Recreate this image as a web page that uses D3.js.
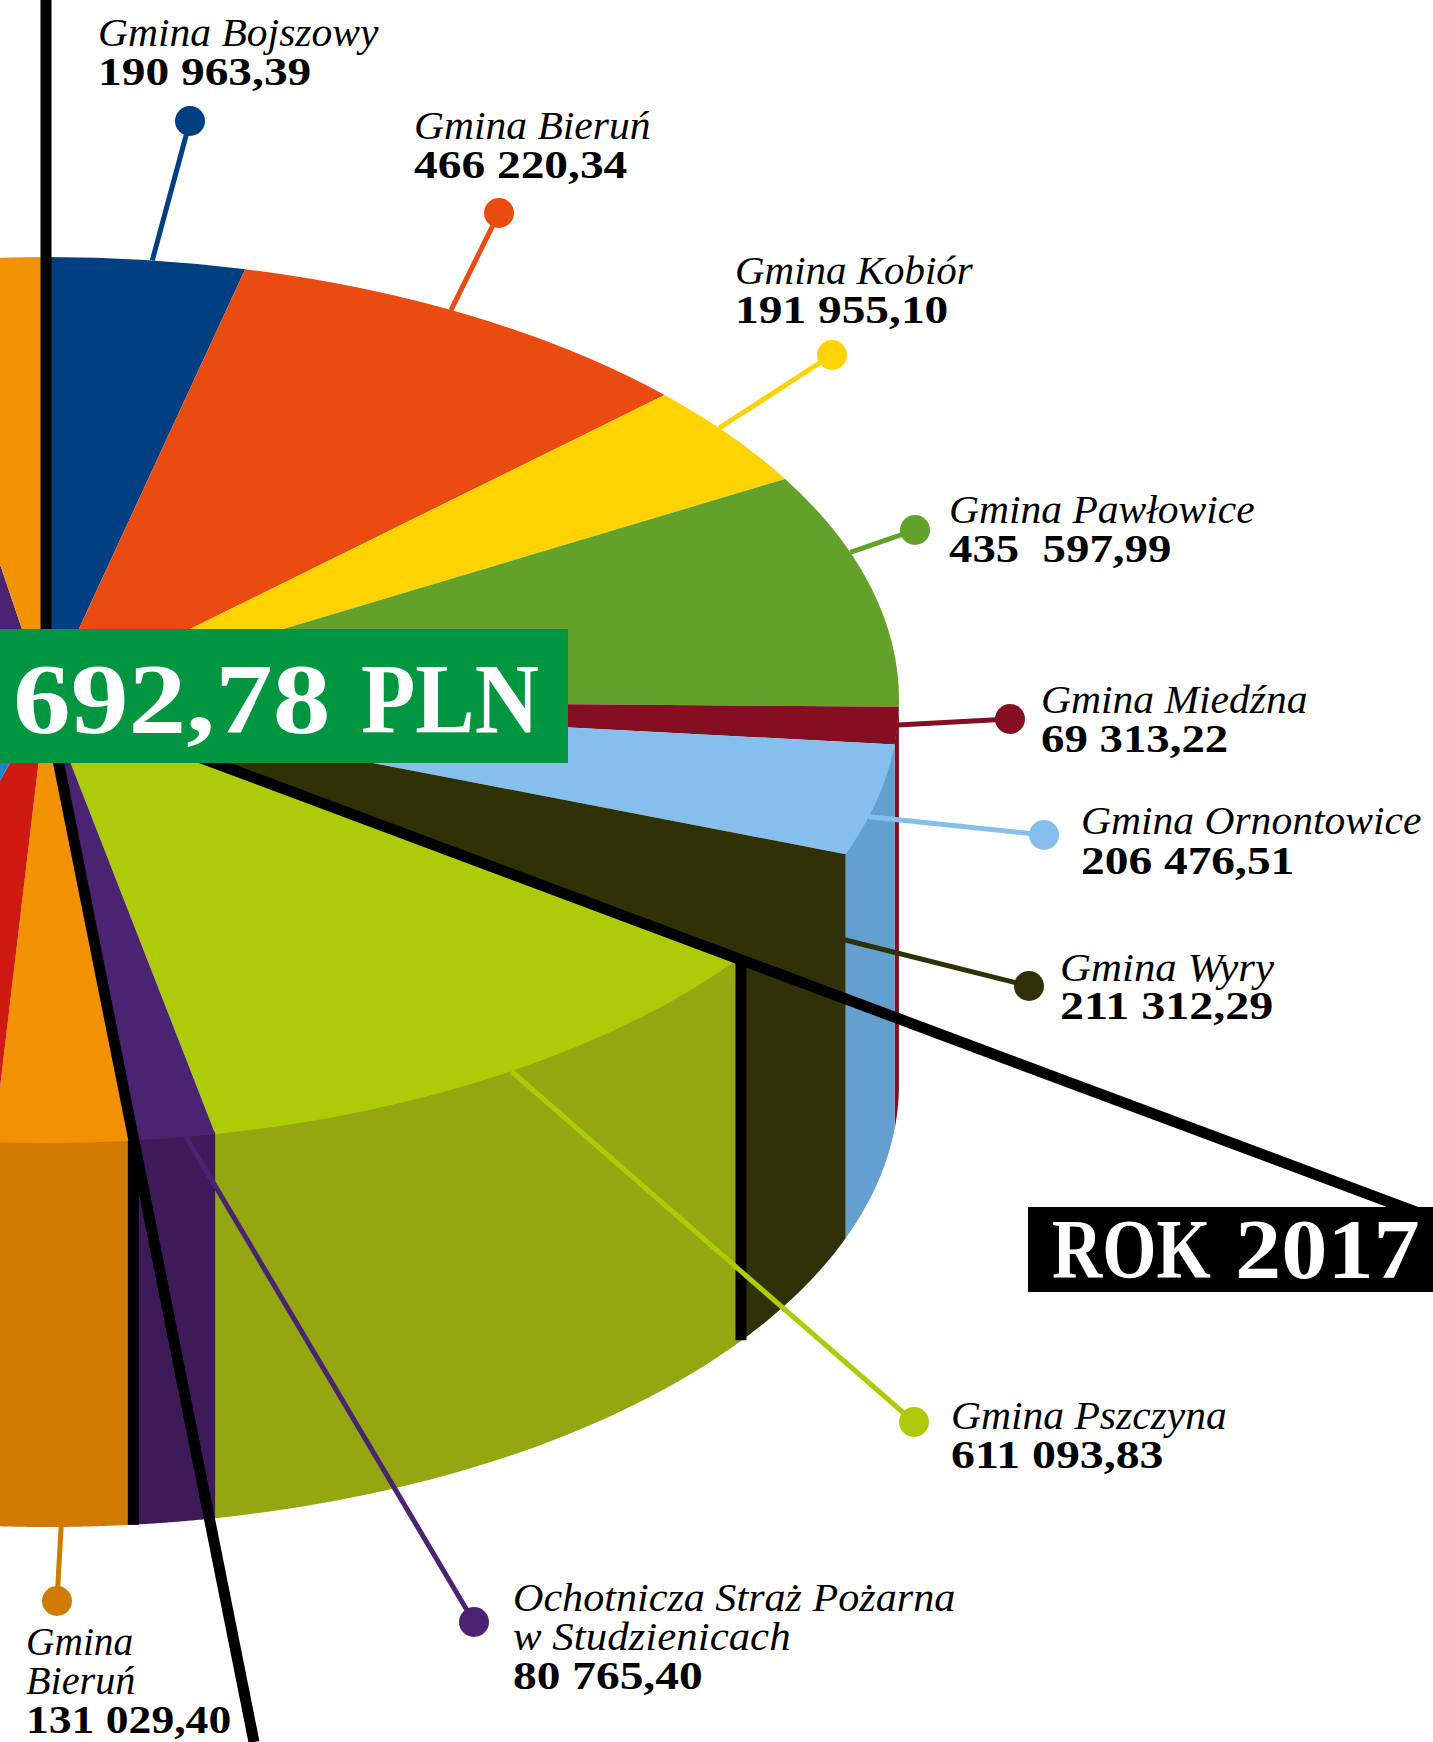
<!DOCTYPE html>
<html>
<head>
<meta charset="utf-8">
<script src="https://cdn.jsdelivr.net/npm/d3@7"></script>
<style>
	html,body{margin:0;padding:0;background:#fff;overflow:hidden;}
	svg{display:block;}
	text{font-family:"Liberation Serif",serif;fill:#000;}
</style>
</head>
<body>
<svg width="1433" height="1742"></svg>
<script>
// slices clockwise from the top; the last four lie mostly outside the crop, values estimated
var categories = ['Gmina Bojszowy','Gmina Bieruń','Gmina Kobiór','Gmina Pawłowice','Gmina Miedźna','Gmina Ornontowice','Gmina Wyry','Gmina Pszczyna','Ochotnicza Straż Pożarna w Studzienicach','Gmina Bieruń (2)','poza kadrem 1','poza kadrem 2','poza kadrem 3','poza kadrem 4'];
var values = [190963.39,466220.34,191955.10,435597.99,69313.22,206476.51,211312.29,611093.83,80765.40,131029.40,184000,1970000,200000,141000];
var valueLabels = ['190 963,39','466 220,34','191 955,10','435  597,99','69 313,22','206 476,51','211 312,29','611 093,83','80 765,40','131 029,40'];
var totalLabel = ['692,78','PLN'];
var yearLabel = ['ROK','2017'];

var topColors = ['#003f82','#ea4b10','#ffd200','#62a12a','#840e22','#85c0ec','#2f3206','#aecb07','#4a2372','#f39200','#cf1a12','#1d85c8','#4a2372','#f39200'];
var wallColors = ['#003f82','#ea4b10','#ffd200','#62a12a','#840e22','#64a0cf','#2f3206','#93a710','#3d1a58','#cf7a00','#a81510','#176aa0','#3d1a58','#cf7a00'];

// label layout: text lines, text x, baselines, dot, where the leader leaves the slice, text stretch
var labelLayout = [
	{i:0,lines:['Gmina Bojszowy'],x:98,y:[45,85],dot:[190,121],frac:.53,drop:0,color:'#003f82',sn:[1.065],sv:1.185},
	{i:1,lines:['Gmina Bieruń'],x:414,y:[138,178],dot:[499,213],frac:.45,drop:0,color:'#ea4b10',sn:[1.065],sv:1.185},
	{i:2,lines:['Gmina Kobiór'],x:735,y:[283,323],dot:[832,355],frac:.415,drop:0,color:'#ffd200',sn:[1.05],sv:1.185},
	{i:3,lines:['Gmina Pawłowice'],x:949,y:[522,562],dot:[915,530],frac:.34,drop:0,color:'#62a12a',sn:[1.065],sv:1.17},
	{i:4,lines:['Gmina Miedźna'],x:1041,y:[712,752],dot:[1010,719],frac:.48,drop:0,color:'#840e22',sn:[1.065],sv:1.17},
	{i:5,lines:['Gmina Ornontowice'],x:1081,y:[833,874],dot:[1044,835],frac:.65,drop:0,color:'#85c0ec',sn:[1.065],sv:1.185},
	{i:6,lines:['Gmina Wyry'],x:1060,y:[980,1019],dot:[1029,986],frac:.03,drop:82,color:'#2f3206',sn:[1.10],sv:1.2},
	{i:7,lines:['Gmina Pszczyna'],x:951,y:[1428,1468],dot:[914,1422],frac:.5,drop:0,color:'#aecb07',sn:[1.065],sv:1.195},
	{i:8,lines:['Ochotnicza Straż Pożarna','w Studzienicach'],x:513,y:[1610,1649,1689],dot:[474,1622],frac:.35,drop:0,color:'#4a2372',sn:[1.08,1.10],sv:1.185},
	{i:9,lines:['Gmina','Bieruń'],x:26,y:[1654,1693,1733],dot:[57,1601],frac:.51,drop:384,color:'#cf7a00',sn:[1.01,1.03],sv:1.14}
];

var cx = 46, cy = 700, rx = 853, ry = 443, depth = 384;
var svg = d3.select('svg');

var pie = d3.pie().sort(null).value(d => d);
var slices = pie(values);

var xscale = d3.scaleLinear().domain([-1,1]).range([cx-rx,cx+rx]);
var yscale = d3.scaleLinear().domain([-1,1]).range([cy-ry,cy+ry]);
var rimX = a => xscale(Math.sin(a));
var rimY = a => yscale(-Math.cos(a));

// side walls, only the front half of the rim is seen. start a little high so no seam shows under the top
var wall = d3.area().x(a => rimX(a)).y0(a => rimY(a)-3).y1(a => rimY(a)+depth);
var walls = svg.append('g');
slices.forEach((s,i) => {
	var a0 = Math.max(s.startAngle,Math.PI/2), a1 = Math.min(s.endAngle,Math.PI*1.5);
	if(a1 <= a0) return;
	var steps = d3.range(0,41).map(k => a0+(a1-a0)*k/40);
	walls.append('path').attr('d',wall(steps)).attr('fill',wallColors[i]);
});

// top face
var arc = d3.arc().innerRadius(0).outerRadius(rx);
svg.append('g')
	.attr('transform',`translate(${cx},${cy}) scale(1,${ry/rx})`)
	.selectAll('path').data(slices).enter().append('path')
	.attr('d',arc)
	.attr('fill',(d,i) => topColors[i]);

// black marks of the 2017 sector
var wyryEnd = slices[6].endAngle, ospEnd = slices[8].endAngle;
var marks = svg.append('g').attr('stroke','#000').attr('stroke-width',11).attr('fill','none');
marks.append('line').attr('x1',cx).attr('y1',0).attr('x2',cx).attr('y2',cy);
marks.append('line').attr('x1',rimX(wyryEnd)-1).attr('y1',rimY(wyryEnd)).attr('x2',rimX(wyryEnd)-1).attr('y2',rimY(wyryEnd)+depth);
marks.append('line').attr('x1',rimX(ospEnd)+2).attr('y1',rimY(ospEnd)).attr('x2',rimX(ospEnd)+2).attr('y2',rimY(ospEnd)+depth);
marks.append('line').attr('x1',cx).attr('y1',cy).attr('x2',1440).attr('y2',1221);
marks.append('line').attr('x1',cx).attr('y1',cy).attr('x2',254).attr('y2',1742);

// leaders and dots
var leaders = svg.append('g');
labelLayout.forEach(l => {
	var s = slices[l.i];
	var a = s.startAngle+(s.endAngle-s.startAngle)*l.frac;
	leaders.append('line')
		.attr('x1',rimX(a)).attr('y1',rimY(a)+l.drop)
		.attr('x2',l.dot[0]).attr('y2',l.dot[1])
		.attr('stroke',l.color).attr('stroke-width',5);
	leaders.append('circle').attr('cx',l.dot[0]).attr('cy',l.dot[1]).attr('r',15).attr('fill',l.color);
});

// stretch the text a bit, the original face is wider than Liberation Serif
function addText(g,str,x,y,size,weight,style,stretch){
	var t = g.append('text').attr('x',x).attr('y',y).text(str)
		.attr('font-size',size).attr('font-weight',weight).attr('font-style',style)
		.style('white-space','pre');
	t.attr('textLength',t.node().getComputedTextLength()*stretch).attr('lengthAdjust','spacingAndGlyphs');
	return t;
}

var labels = svg.append('g');
labelLayout.forEach(l => {
	l.lines.forEach((line,k) => addText(labels,line,l.x,l.y[k]+1,39,'normal','italic',l.sn[k]));
	addText(labels,valueLabels[l.i],l.x,l.y[l.lines.length],40,'bold','normal',l.sv);
});

// total and year boxes
svg.append('rect').attr('x',0).attr('y',629).attr('width',568).attr('height',134).attr('fill','#009640');
addText(svg,totalLabel[0],13,732,100,'bold','normal',1.155).style('fill','#fff');
addText(svg,totalLabel[1],361,732,100,'bold','normal',.89).style('fill','#fff');
svg.append('rect').attr('x',1028).attr('y',1207).attr('width',405).attr('height',85).attr('fill','#000');
addText(svg,yearLabel[0],1052,1278,84,'bold','normal',.83).style('fill','#fff');
addText(svg,yearLabel[1],1235,1278,84,'bold','normal',1.10).style('fill','#fff');
</script>
</body>
</html>
